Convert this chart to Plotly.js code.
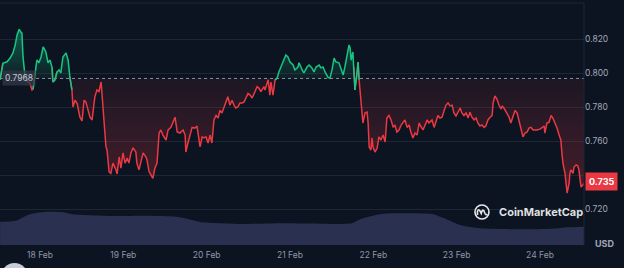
<!DOCTYPE html>
<html>
<head>
<meta charset="utf-8">
<script src="https://cdn.plot.ly/plotly-3.0.1.min.js"></script>
<style>html,body{margin:0;padding:0;background:#0d1421;}#chart{width:624px;height:268px;}</style>
</head>
<body>
<div id="chart"></div>
<script>
// ---- data (hours from 18 Feb 00:00 UTC, price in USD) ----
const hours = [-11.5,-10.7,-9.5,-8.6,-7.8,-7.2,-6.6,-6.0,-5.5,-5.2,-4.9,-4.3,-3.5,-2.9,-2.3,-2.0,-1.4,-0.9,-0.3,0.3,0.9,1.7,2.3,2.9,3.5,3.7,4.3,4.9,5.5,6.0,6.6,7.5,8.1,8.6,9.2,9.5,10.1,10.7,11.5,12.1,12.7,13.2,13.8,14.4,15.0,15.8,16.4,17.0,17.6,17.9,18.4,19.0,19.3,19.9,20.4,21.0,21.9,22.2,22.8,23.3,23.9,24.5,25.1,25.6,26.2,26.8,27.6,27.9,28.5,29.1,29.7,30.5,30.8,31.4,32.0,32.5,33.1,33.7,34.3,34.8,35.4,36.3,36.9,37.7,38.9,39.5,40.3,41.2,41.8,42.0,42.6,43.2,43.8,44.6,45.2,45.8,46.1,46.7,47.2,47.8,48.4,49.0,49.5,50.1,50.7,51.3,51.8,52.4,53.0,53.6,54.1,54.7,55.3,55.9,56.4,57.0,57.6,58.2,58.8,59.3,59.9,60.5,61.1,61.9,62.5,63.1,63.6,64.5,64.8,65.7,66.2,66.5,67.1,67.7,68.3,68.8,69.4,70.3,70.8,71.4,72.0,72.9,73.4,74.3,74.6,75.5,76.0,76.9,77.5,78.3,78.9,79.5,80.4,80.9,81.5,82.1,82.9,83.5,84.1,84.7,85.2,86.1,86.7,87.3,87.8,88.4,89.0,89.3,89.6,90.1,90.4,90.7,91.3,91.6,91.9,92.4,92.7,93.0,93.6,94.2,94.5,94.8,95.3,95.6,95.9,96.5,97.1,97.6,98.2,98.8,99.4,99.9,100.5,101.1,101.7,102.2,102.8,103.4,104.0,104.5,105.1,105.7,106.3,106.8,107.4,108.0,108.6,109.2,109.4,110.3,110.9,111.5,112.0,112.9,113.5,114.0,114.6,115.2,115.8,116.4,116.9,117.5,118.1,118.7,119.2,119.8,120.4,121.0,121.5,122.1,122.7,123.3,123.8,124.4,125.0,125.6,126.1,126.7,127.3,127.9,128.4,129.0,129.6,130.2,130.5,131.0,131.6,132.2,132.8,133.1,133.6,134.5,135.1,135.6,136.2,136.8,137.4,138.0,138.5,139.1,139.7,140.3,140.8,141.4,142.0,142.6,143.1,144.0,144.6,145.2,145.4,146.0,146.6,147.2,147.7,148.3,148.9,149.5,150.0,150.3,150.6,151.2,151.5,151.8,152.4,152.6,152.9,153.5,153.8,154.4,154.9,155.2,155.8,156.4,156.7];
const price = [0.796,0.8057,0.8066,0.8088,0.8118,0.816,0.8224,0.8257,0.824,0.8235,0.8096,0.7978,0.795,0.794,0.790,0.7905,0.800,0.8076,0.806,0.8094,0.8153,0.8124,0.806,0.8076,0.803,0.7947,0.796,0.8006,0.8018,0.800,0.8094,0.8118,0.8076,0.7976,0.790,0.780,0.784,0.782,0.774,0.7718,0.784,0.783,0.778,0.774,0.7724,0.786,0.790,0.789,0.7947,0.786,0.774,0.7565,0.7547,0.7418,0.741,0.747,0.743,0.7406,0.7506,0.744,0.753,0.747,0.750,0.747,0.753,0.756,0.7535,0.747,0.743,0.749,0.753,0.7506,0.749,0.742,0.740,0.738,0.744,0.747,0.7647,0.7665,0.7635,0.7606,0.7665,0.768,0.774,0.7653,0.7647,0.7665,0.7635,0.7535,0.7588,0.7635,0.768,0.7676,0.7688,0.7606,0.7565,0.7624,0.7618,0.7624,0.7588,0.7635,0.7588,0.7724,0.775,0.7735,0.778,0.7765,0.780,0.784,0.786,0.781,0.784,0.781,0.7794,0.780,0.7824,0.7824,0.783,0.7853,0.788,0.787,0.7853,0.789,0.792,0.791,0.789,0.792,0.790,0.796,0.787,0.7947,0.787,0.796,0.797,0.8006,0.8035,0.8076,0.8106,0.8094,0.8065,0.8047,0.8018,0.8035,0.806,0.8018,0.800,0.8035,0.8047,0.803,0.8006,0.8035,0.8047,0.803,0.8035,0.8006,0.7976,0.797,0.8018,0.8088,0.8065,0.806,0.8018,0.7988,0.8035,0.8094,0.8165,0.8147,0.8076,0.8124,0.8035,0.790,0.800,0.8065,0.796,0.786,0.778,0.7706,0.7765,0.777,0.7706,0.7565,0.7547,0.7618,0.7565,0.7535,0.7559,0.7624,0.7606,0.7635,0.7594,0.7735,0.775,0.7724,0.768,0.7694,0.7653,0.7665,0.7694,0.771,0.7724,0.768,0.7694,0.7653,0.7618,0.7647,0.7635,0.7706,0.7694,0.7665,0.7694,0.7724,0.7706,0.7724,0.768,0.771,0.775,0.7735,0.774,0.778,0.781,0.7824,0.7806,0.781,0.7765,0.7747,0.777,0.7794,0.7765,0.775,0.7765,0.7735,0.777,0.774,0.7724,0.7735,0.7706,0.7688,0.7694,0.768,0.7688,0.7724,0.774,0.775,0.7824,0.7865,0.7847,0.781,0.7788,0.7806,0.7794,0.7765,0.774,0.7706,0.774,0.778,0.7765,0.771,0.768,0.7624,0.7647,0.7653,0.7676,0.768,0.7665,0.7665,0.7665,0.767,0.768,0.7688,0.7647,0.7706,0.771,0.775,0.7735,0.7706,0.7676,0.7635,0.7606,0.753,0.747,0.741,0.7353,0.7294,0.7353,0.741,0.743,0.741,0.7447,0.7459,0.7453,0.743,0.733,0.734,0.735];
const volHours = [-11.5,-6.9,-3.5,0,2.3,6.9,9.2,17.3,23.0,30.0,39.2,43.8,46.1,57.6,69.1,80.6,86.4,89.9,92.2,97.9,101.4,112.9,116.4,121.0,126.7,138.2,147.5,152.1,156.7];
const volume = [233,243,300,327,333,327,307,293,290,293,283,250,230,210,217,213,210,217,257,307,317,310,267,200,167,157,163,177,183];
const openPrice = 0.7968;
const lastPrice = 0.735;
const priceTicks = [0.72,0.74,0.76,0.78,0.80,0.82];
const priceTickText = ['0.720','','0.760','0.780','0.800','0.820'];

// ---- build ----
const START = Date.UTC(2025,1,18);
const H = 3600e3;
const t = hours.map(h => START + h*H);
const vt = volHours.map(h => START + h*H);
const n = price.length;
const baseArr = price.map(() => openPrice);
const upFill = price.map(v => Math.max(v, openPrice));
const dnFill = price.map(v => Math.min(v, openPrice));
const upLine = price.map((v,i) => (v>=openPrice || (i>0 && price[i-1]>=openPrice) || (i<n-1 && price[i+1]>=openPrice)) ? v : null);
const dnLine = price.map((v,i) => (v<openPrice || (i>0 && price[i-1]<openPrice) || (i<n-1 && price[i+1]<openPrice)) ? v : null);
const RED = '#ea3943', GREEN = '#16c784';
const FONT = 'Inter, "Noto Sans", sans-serif';

const traces = [
  {x: vt, y: volume, yaxis: 'y2', type: 'scatter', mode: 'lines', line: {width: 0, shape: 'spline', smoothing: 0.6}, fill: 'tozeroy', fillcolor: '#2a3050', hoverinfo: 'skip'},
  {x: t, y: baseArr, type: 'scatter', mode: 'lines', line: {width: 0}, hoverinfo: 'skip'},
  {x: t, y: upFill, type: 'scatter', mode: 'lines', line: {width: 0}, fill: 'tonexty',
   fillgradient: {type: 'vertical', colorscale: [[0, 'rgba(22,199,132,0.06)'], [1, 'rgba(22,199,132,0.4)']]}, hoverinfo: 'skip'},
  {x: t, y: baseArr, type: 'scatter', mode: 'lines', line: {width: 0}, hoverinfo: 'skip'},
  {x: t, y: dnFill, type: 'scatter', mode: 'lines', line: {width: 0}, fill: 'tonexty',
   fillgradient: {type: 'vertical', colorscale: [[0, 'rgba(234,57,67,0.26)'], [1, 'rgba(234,57,67,0.07)']]}, hoverinfo: 'skip'},
  {x: t, y: baseArr, type: 'scatter', mode: 'lines', line: {width: 1, dash: 'dot', color: 'rgba(190,196,210,0.7)'}, hoverinfo: 'skip'},
  {x: t, y: dnLine, type: 'scatter', mode: 'lines', line: {width: 1.5, color: RED}, connectgaps: false},
  {x: t, y: upLine, type: 'scatter', mode: 'lines', line: {width: 1.5, color: GREEN}, connectgaps: false}
];

const layout = {
  width: 624, height: 268,
  margin: {l: 0, r: 40, t: 3, b: 23},
  paper_bgcolor: '#0d1421', plot_bgcolor: '#0d1421',
  showlegend: false,
  font: {family: FONT, color: '#a1a7bb'},
  xaxis: {
    type: 'date', range: [START - 11.52*H, START + 156.67*H],
    tick0: START, dtick: 86400000, tickformat: '%-d %b',
    showgrid: false, zeroline: false, ticks: '', showline: false,
    ticklabelstandoff: 3,
    tickfont: {family: FONT, size: 8.5, color: '#8f96a8'}
  },
  yaxis: {
    range: [0.69882, 0.84118], side: 'right',
    tickvals: priceTicks, ticktext: priceTickText,
    gridcolor: '#1f2634', gridwidth: 1, zeroline: false, ticks: '', showline: false,
    tickfont: {family: FONT, size: 8.5, color: '#a1a7bb'}
  },
  yaxis2: {overlaying: 'y', range: [0, 2420], visible: false},
  shapes: [
    {type: 'line', xref: 'paper', yref: 'paper', x0: 0, x1: 1, y0: 1, y1: 1, line: {color: '#1f2634', width: 1}},
    {type: 'line', xref: 'paper', yref: 'paper', x0: 1, x1: 1, y0: 0, y1: 1, line: {color: '#1f2634', width: 1}},
    {type: 'circle', xref: 'paper', yref: 'paper', xsizemode: 'pixel', ysizemode: 'pixel', xanchor: 0.8253, yanchor: 0.1364,
     x0: -7, x1: 7, y0: -7, y1: 7, line: {color: 'rgba(255,255,255,0.9)', width: 1.6}},
    {type: 'path', xref: 'paper', yref: 'paper', xsizemode: 'pixel', ysizemode: 'pixel', xanchor: 0.8253, yanchor: 0.1364,
     path: 'M -4.5 -3 L -4.5 1 Q -3.5 3.5 -2 1 L -0.8 -1.5 Q 0.5 3.5 2 1 L 3 -1.5 Q 4 -3.5 5 -2', line: {color: 'rgba(255,255,255,0.9)', width: 1.6}},
    {type: 'circle', xref: 'paper', yref: 'paper', x0: 0.0017, x1: 0.048, y0: -0.19, y1: -0.074,
     fillcolor: '#c9ccd6', line: {width: 0}, layer: 'above'}
  ],
  annotations: [
    {xref: 'paper', yref: 'paper', x: 1, y: 0, xanchor: 'left', yanchor: 'middle', xshift: 9, yshift: 2, text: '<b>USD</b>', showarrow: false,
     font: {family: FONT, size: 9, color: '#a1a7bb'}},
    {xref: 'paper', yref: 'y', x: 0, y: openPrice, xanchor: 'left', yanchor: 'middle', xshift: 2, text: openPrice.toFixed(4), showarrow: false,
     font: {family: FONT, size: 8.5, color: '#c3c8d4'}, bgcolor: 'rgba(50,55,70,0.75)', borderpad: 2},
    {xref: 'paper', yref: 'y', x: 1, y: lastPrice, xanchor: 'left', yanchor: 'middle', xshift: 1, yshift: 2, text: '<b>' + lastPrice.toFixed(3) + '</b>', showarrow: false,
     font: {family: FONT, size: 9, color: '#ffffff'}, bgcolor: RED, borderpad: 3},
    {xref: 'paper', yref: 'paper', x: 0.851, y: 0.1364, xanchor: 'left', yanchor: 'middle', text: '<b>CoinMarketCap</b>', showarrow: false,
     font: {family: FONT, size: 11, color: 'rgba(255,255,255,0.88)'}}
  ]
};

Plotly.newPlot('chart', traces, layout, {staticPlot: true, displayModeBar: false});
</script>
</body>
</html>
